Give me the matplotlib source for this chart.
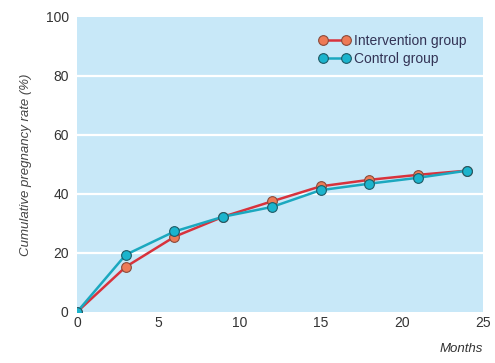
import matplotlib
matplotlib.use("Agg")
import matplotlib.pyplot as plt

months = [0, 3, 6, 9, 12, 15, 18, 21, 24]
intervention = [0, 15.3, 25.5, 32.3, 37.5, 42.6, 44.8, 46.5, 47.9]
control = [0, 19.4, 27.3, 32.3, 35.6, 41.3, 43.5, 45.5, 47.9]
xticks = [0, 5, 10, 15, 20, 25]
yticks = [0, 20, 40, 60, 80, 100]

plt.rcParams['font.family'] = ['Liberation Sans Narrow', 'Liberation Sans', 'DejaVu Sans']

fig = plt.figure(figsize=(4.95, 3.63), dpi=100)
ax = fig.add_axes([0.1556, 0.1405, 0.8202, 0.8127])
ax.set_facecolor('#c8e8f8')
for s in ax.spines.values():
    s.set_visible(False)

ax.set_xlim(0, 25)
ax.set_ylim(0, 100)
for y in yticks[1:-1]:
    ax.axhline(y, color='white', lw=1.6, zorder=1)

ax.plot(months, intervention, color='#d8323c', lw=1.8, marker='o', ms=7,
        mfc='#ee7a56', mec='#8a4a3a', mew=0.8, zorder=3, label='Intervention group')
ax.plot(months, control, color='#1ba8bf', lw=1.8, marker='o', ms=7,
        mfc='#1bb4cd', mec='#1f5a66', mew=0.8, zorder=4, label='Control group')

ax.set_xticks(xticks)
ax.set_yticks(yticks)
ax.tick_params(axis='x', direction='in', length=7, width=1.5, color='white',
               labelsize=10, labelcolor='#333333', pad=3)
ax.tick_params(axis='y', length=0, labelsize=10, labelcolor='#333333', pad=6)
for t in ax.xaxis.get_major_ticks():
    if t.get_loc() in (0, 25):
        t.tick1line.set_visible(False)

ax.set_ylabel('Cumulative pregnancy rate (%)', style='italic', fontsize=9.5,
              color='#444444', labelpad=10)
fig.text(0.975, 0.03, 'Months', style='italic', fontsize=9.5, color='#333333', ha='right')

leg = ax.legend(loc='upper right', frameon=False, numpoints=2, fontsize=10,
                handlelength=2.2, handletextpad=0.3, labelspacing=0.3,
                bbox_to_anchor=(0.99, 0.985))
for t in leg.get_texts():
    t.set_color('#333355')

fig.savefig('out.png', dpi=100)
